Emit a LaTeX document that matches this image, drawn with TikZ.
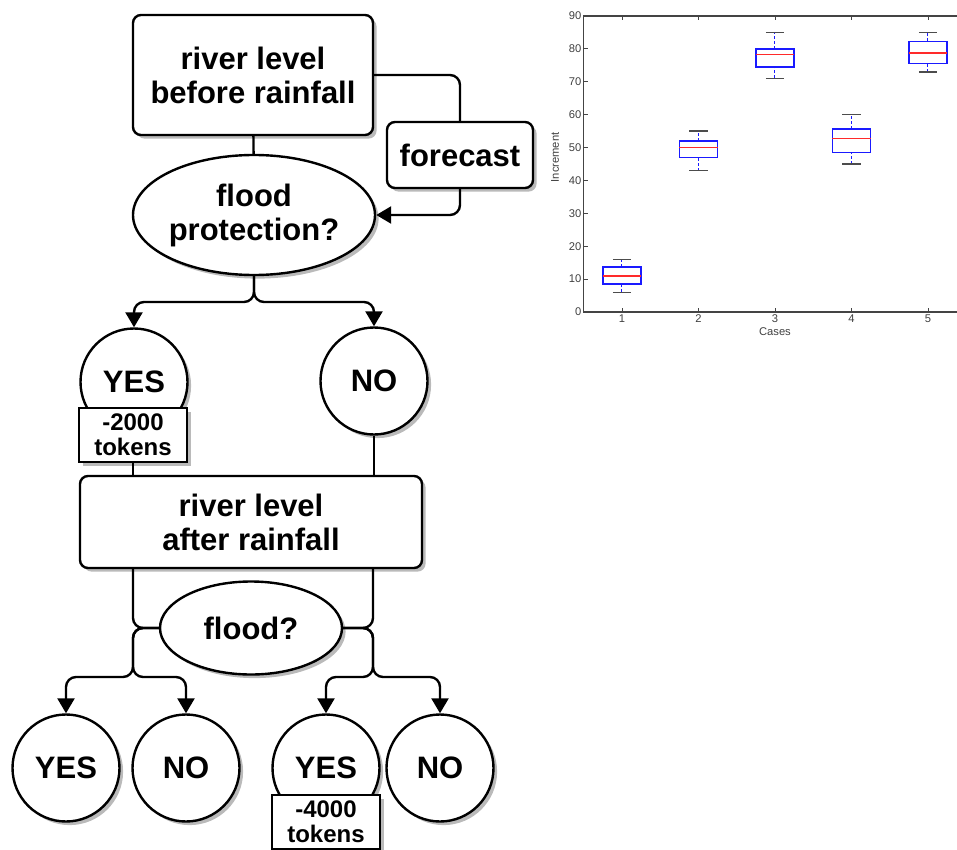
\documentclass[tikz,border=0pt]{standalone}
\usepackage{fontspec}
\setmainfont{Liberation Sans}
\definecolor{plotBlue}{HTML}{1A1AFF}
\definecolor{plotRed}{HTML}{FF2A2A}
\definecolor{plotFrame}{HTML}{444444}
\usetikzlibrary{arrows.meta,shapes.geometric,shadows}

\begin{document}
\begin{tikzpicture}[x=0.5pt, y=-0.5pt,
  softShadow/.style={drop shadow={shadow xshift=1.8pt, shadow yshift=-1.8pt, fill=black!60, opacity=0.45}},
  level/.style={rectangle, rounded corners=4pt, draw, line width=1.2pt, fill=white, softShadow,
    align=center, inner sep=0pt, font=\bfseries\fontsize{15.5}{17}\selectfont},
  query/.style={ellipse, draw, line width=1.2pt, fill=white, softShadow,
    align=center, inner sep=0pt, font=\bfseries\fontsize{15.5}{17}\selectfont},
  outcome/.style={circle, draw, line width=1.2pt, fill=white, softShadow,
    minimum size=53.5pt, inner sep=0pt, font=\bfseries\fontsize{15.5}{17}\selectfont},
  cost/.style={rectangle, draw, line width=1.2pt, fill=white, softShadow,
    minimum width=54pt, minimum height=27pt, align=center, inner sep=0pt,
    font=\bfseries\fontsize{12}{12.5}\selectfont},
  link/.style={line width=1.2pt, rounded corners=5pt},
  arr/.style={link, -{Triangle[length=7.5pt, width=8.5pt]}},
  tick/.style={font=\fontsize{5.6}{6}\selectfont, text=black!75, inner sep=1pt}]
  \useasboundingbox (0,0) rectangle (957,850);

  % Before the rain
  \node[level, minimum width=120pt, minimum height=60pt] (rlBefore) at (253,75) {river level\\before rainfall};
  \node[level, minimum width=73pt, minimum height=33pt] (forecast) at (460,155) {forecast};
  \node[query, minimum width=121pt, minimum height=60pt] (protect) at (254,215) {flood\\protection?};
  \coordinate (splitA) at (254,302);
  \node[outcome] (yesA) at (134,382) {YES};
  \node[outcome] (noA) at (374,381) {NO};
  \node[cost] (costA) at (133,435) {-2000\\tokens};

  % After the rain
  \node[level, minimum width=171pt, minimum height=46pt] (rlAfter) at (251,522) {river level\\after rainfall};
  \node[query, minimum width=91pt, minimum height=46.5pt] (flood) at (251,628) {flood?};
  \coordinate (splitB) at (133,677);
  \coordinate (splitC) at (373,677);
  \node[outcome] (yesB) at (66,768) {YES};
  \node[outcome] (noB) at (186,768) {NO};
  \node[outcome] (yesC) at (326,768) {YES};
  \node[outcome] (noC) at (440,768) {NO};
  \node[cost] (costC) at (326,822) {-4000\\tokens};

  % Connectors
  \draw[link] (rlBefore) -- (protect);
  \draw[link] (rlBefore.east) -| (forecast.north);
  \draw[arr] (forecast.south) |- (protect.east);
  \draw[arr] (protect.south) -- (splitA) -| (yesA.north);
  \draw[arr] (protect.south) -- (splitA) -| (noA.north);
  \draw[link] (costA) -- (costA |- rlAfter.north);
  \draw[link] (noA) -- (noA |- rlAfter.north);
  \draw[link] (rlAfter.south -| splitB) |- (flood.west);
  \draw[link] (rlAfter.south -| splitC) |- (flood.east);
  \draw[arr] (flood.west) -| (splitB) -| (yesB.north);
  \draw[arr] (flood.west) -| (splitB) -| (noB.north);
  \draw[arr] (flood.east) -| (splitC) -| (yesC.north);
  \draw[arr] (flood.east) -| (splitC) -| (noC.north);

  % Box plot
  \begin{scope}
    \clip (540,0) rectangle (957,850);
    \begin{scope}[shift={(545.45,312)}, xscale=76.5, yscale=-3.289]
      % Frame and ticks
      \draw[plotFrame, line width=0.7pt] (0.5,0) rectangle (5.5,90);
      \foreach \v in {0,10,...,90} {
        \draw[plotFrame, line width=0.4pt] (0.5,\v) -- ++(0.05,0);
        \node[tick, anchor=east] (yt\v) at (0.5,\v) {\v};
      }
      \foreach \c in {1,...,5} {
        \draw[plotFrame, line width=0.4pt] (\c,0) -- ++(0,1.2) (\c,90) -- ++(0,-1.2);
        \node[tick, anchor=north] (xt\c) at (\c,0) {\c};
      }
      \node[tick] (xLabel) at (3,-6.1) {Cases};
      \node[tick, rotate=90] (yLabel) at (0.125,47) {Increment};

      % Boxes: case/low/q1/median/q3/high
      \foreach \c/\lo/\qa/\md/\qb/\hi in {1/6/8.5/11/13.7/16, 2/43/47/50/52/55,
          3/71/74.5/78.3/80/85, 4/45/48.5/52.7/55.7/60, 5/73/75.5/78.7/82.3/85} {
        \draw[plotBlue, line width=0.5pt, dash pattern=on 1.5pt off 1pt] (\c,\lo) -- (\c,\qa) (\c,\qb) -- (\c,\hi);
        \draw[black!70, line width=0.7pt] (\c-0.12,\lo) -- (\c+0.12,\lo) (\c-0.12,\hi) -- (\c+0.12,\hi);
        \draw[plotBlue, line width=0.7pt] (\c-0.25,\qa) rectangle (\c+0.25,\qb);
        \draw[plotRed, line width=0.7pt] (\c-0.25,\md) -- (\c+0.25,\md);
      }
    \end{scope}
  \end{scope}

\end{tikzpicture}
\end{document}
